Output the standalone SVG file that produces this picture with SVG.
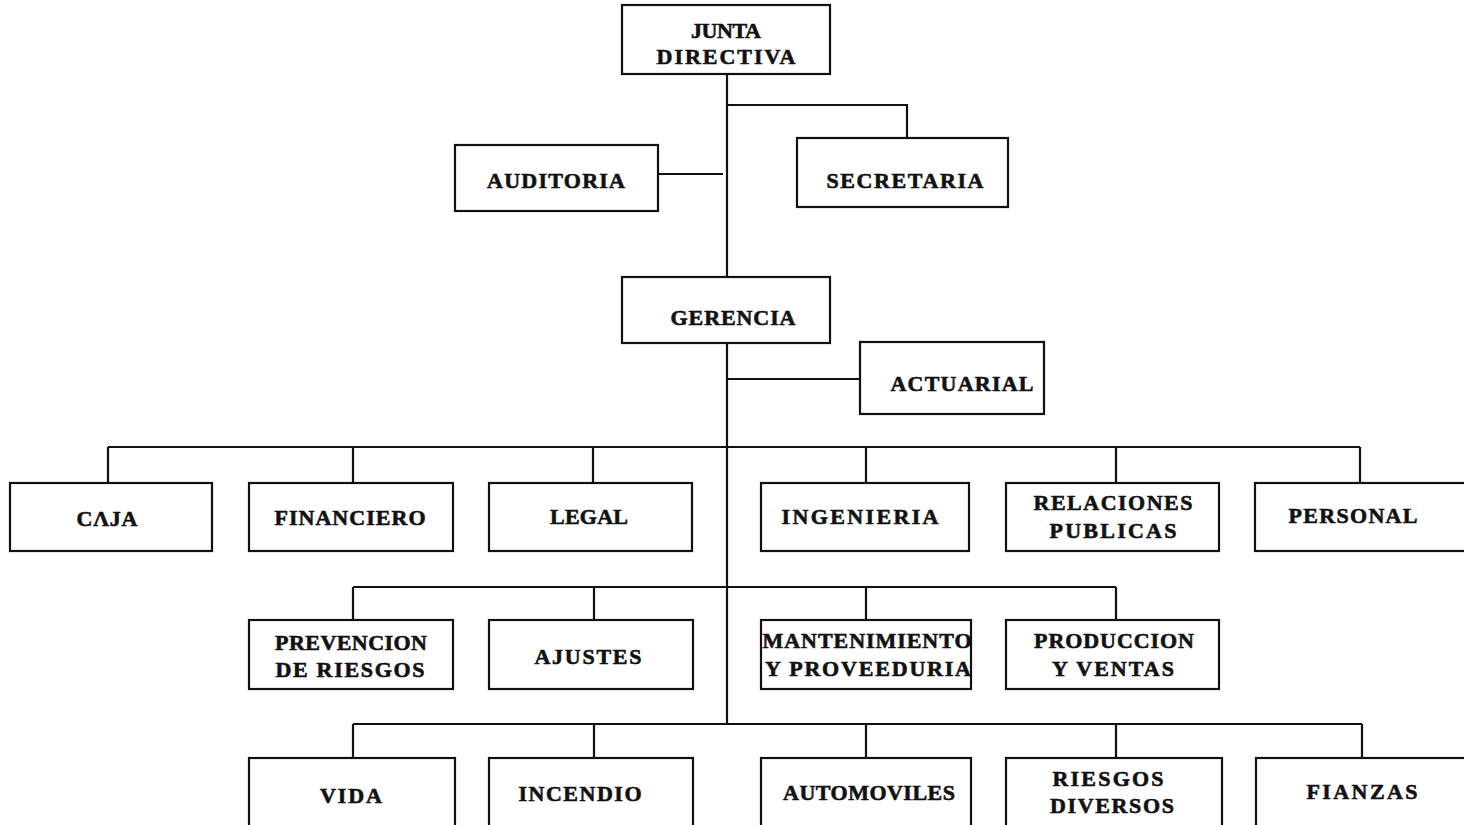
<svg xmlns="http://www.w3.org/2000/svg" width="1464" height="825" viewBox="0 0 1464 825">
<style>
.box{fill:#fff;stroke:#111;stroke-width:2.2}
.ln{fill:none;stroke:#111;stroke-width:2.2}
text{font-family:"Liberation Serif","Times New Roman",serif;font-weight:bold;font-size:22px;fill:#111;stroke:#111;stroke-width:0.6;text-anchor:middle}
</style>
<rect width="1464" height="825" fill="#fff"/>
<g id="connectors">
<path class="ln" d="M727 74 V724"/>
<path class="ln" d="M727 105 H907 V138"/>
<path class="ln" d="M658 174 H723"/>
<path class="ln" d="M727 379 H860"/>
<path class="ln" d="M108 447 H1360 M108 447 V483 M353 447 V483 M593 447 V483 M866 447 V483 M1116 447 V483 M1360 447 V483"/>
<path class="ln" d="M353 587 H1116 M353 587 V620 M594 587 V620 M866 587 V620 M1116 587 V620"/>
<path class="ln" d="M353 724 H1362 M353 724 V758 M594 724 V758 M866 724 V758 M1116 724 V758 M1362 724 V758"/>
</g>
<g id="junta"><rect class="box" x="622" y="5" width="208" height="69"/><text x="726" y="38" textLength="70" lengthAdjust="spacing">JUNTA</text><text x="726" y="64" textLength="139" lengthAdjust="spacing">DIRECTIVA</text></g>
<g id="auditoria"><rect class="box" x="455" y="145" width="203" height="66"/><text x="556" y="188" textLength="138" lengthAdjust="spacing">AUDITORIA</text></g>
<g id="secretaria"><rect class="box" x="797" y="138" width="211" height="69"/><text x="905" y="188" textLength="157" lengthAdjust="spacing">SECRETARIA</text></g>
<g id="gerencia"><rect class="box" x="622" y="277" width="208" height="66"/><text x="733" y="325" textLength="125" lengthAdjust="spacing">GERENCIA</text></g>
<g id="actuarial"><rect class="box" x="860" y="342" width="184" height="72"/><text x="962" y="391" textLength="143" lengthAdjust="spacing">ACTUARIAL</text></g>
<g id="caja"><rect class="box" x="10" y="483" width="202" height="68"/><text x="107" y="526" textLength="61" lengthAdjust="spacing">CΛJA</text></g>
<g id="financiero"><rect class="box" x="249" y="483" width="204" height="68"/><text x="350" y="525" textLength="151" lengthAdjust="spacing">FINANCIERO</text></g>
<g id="legal"><rect class="box" x="489" y="483" width="203" height="68"/><text x="589" y="524" textLength="78" lengthAdjust="spacing">LEGAL</text></g>
<g id="ingenieria"><rect class="box" x="761" y="483" width="208" height="68"/><text x="860" y="524" textLength="157" lengthAdjust="spacing">INGENIERIA</text></g>
<g id="relaciones"><rect class="box" x="1006" y="483" width="213" height="68"/><text x="1113" y="510" textLength="159" lengthAdjust="spacing">RELACIONES</text><text x="1113" y="538" textLength="127" lengthAdjust="spacing">PUBLICAS</text></g>
<g id="personal"><rect class="box" x="1255" y="483" width="215" height="68"/><text x="1353" y="523" textLength="129" lengthAdjust="spacing">PERSONAL</text></g>
<g id="prevencion"><rect class="box" x="249" y="620" width="204" height="69"/><text x="351" y="650" textLength="152" lengthAdjust="spacing">PREVENCION</text><text x="350" y="677" textLength="149" lengthAdjust="spacing">DE RIESGOS</text></g>
<g id="ajustes"><rect class="box" x="489" y="620" width="204" height="69"/><text x="588" y="664" textLength="107" lengthAdjust="spacing">AJUSTES</text></g>
<g id="mantenimiento"><rect class="box" x="761" y="620" width="210" height="69"/><text x="867" y="648" textLength="209" lengthAdjust="spacing">MANTENIMIENTO</text><text x="868" y="676" textLength="206" lengthAdjust="spacing">Y PROVEEDURIA</text></g>
<g id="produccion"><rect class="box" x="1006" y="620" width="213" height="69"/><text x="1114" y="648" textLength="160" lengthAdjust="spacing">PRODUCCION</text><text x="1113" y="676" textLength="122" lengthAdjust="spacing">Y VENTAS</text></g>
<g id="vida"><rect class="box" x="249" y="758" width="206" height="80"/><text x="351" y="803" textLength="62" lengthAdjust="spacing">VIDA</text></g>
<g id="incendio"><rect class="box" x="489" y="758" width="204" height="80"/><text x="580" y="801" textLength="123" lengthAdjust="spacing">INCENDIO</text></g>
<g id="automoviles"><rect class="box" x="761" y="758" width="210" height="80"/><text x="869" y="800" textLength="172" lengthAdjust="spacing">AUTOMOVILES</text></g>
<g id="riesgos"><rect class="box" x="1006" y="758" width="216" height="80"/><text x="1108" y="786" textLength="111" lengthAdjust="spacing">RIESGOS</text><text x="1112" y="813" textLength="124" lengthAdjust="spacing">DIVERSOS</text></g>
<g id="fianzas"><rect class="box" x="1256" y="758" width="214" height="80"/><text x="1362" y="799" textLength="111" lengthAdjust="spacing">FIANZAS</text></g>
</svg>
